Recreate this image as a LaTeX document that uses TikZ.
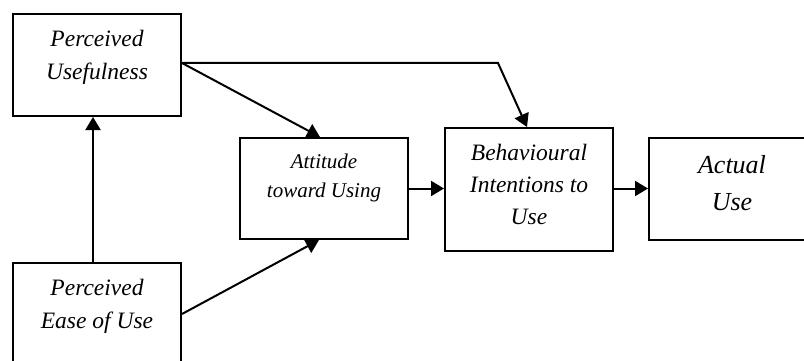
\documentclass[tikz,border=0pt]{standalone}
\usepackage{fontspec}
\setmainfont{Liberation Serif}
\usetikzlibrary{arrows.meta,calc}
\tikzset{
  box/.style={draw, line width=2pt, rectangle, inner sep=0pt, minimum width=168pt},
  lbl/.style={anchor=north, align=center, inner sep=0pt},
  arr/.style={line width=2pt, -{Triangle[length=13pt,width=15pt]}}
}
\begin{document}
\begin{tikzpicture}[x=1pt,y=-1pt]
\clip (0,0) rectangle (804,361);
\fill[white] (0,0) rectangle (804,361);
% boxes
\node[box, minimum height=102pt] (PU) at (97,65) {};
\node[box, minimum height=102pt] (PEOU) at (97,314) {};
\node[box, minimum height=101pt] (Att) at (324,188.5) {};
\node[box, minimum height=123pt] (BI) at (529,189.5) {};
\node[box, minimum width=166pt, minimum height=102pt] (AU) at (732,189) {};
% labels
\node[lbl, font=\fontsize{23.5}{32.5}\selectfont\itshape] (tPU) at (97,30) {Perceived\\Usefulness};
\node[lbl, font=\fontsize{23.5}{32.5}\selectfont\itshape] (tPEOU) at (97,279) {Perceived\\Ease of Use};
\node[lbl, font=\fontsize{21}{29}\selectfont\itshape] (tAtt) at (324,153.7) {Attitude\\toward Using};
\node[lbl, font=\fontsize{23.5}{32}\selectfont\itshape] (tBI) at (529,144) {Behavioural\\Intentions to\\Use};
\node[lbl, font=\fontsize{26}{37}\selectfont\itshape] (tAU) at (732,155) {Actual\\Use};
% connectors
\coordinate (bend) at (498,63);
\draw[arr] ([yshift=2pt]PU.east) -- ([xshift=-4pt]Att.north);
\draw[arr] ([yshift=2pt]PU.east) -- (bend) -- ([xshift=-2pt]BI.north);
\draw[arr] (PEOU.east) -- ([xshift=-5pt]Att.south);
\draw[arr] ([xshift=-4pt]PEOU.north) -- ([xshift=-4pt]PU.south);
\draw[arr] (Att.east) -- (Att.east -| BI.west);
\draw[arr] ([yshift=1pt]BI.east) -- ([yshift=1pt]BI.east -| AU.west);
\end{tikzpicture}
\end{document}
